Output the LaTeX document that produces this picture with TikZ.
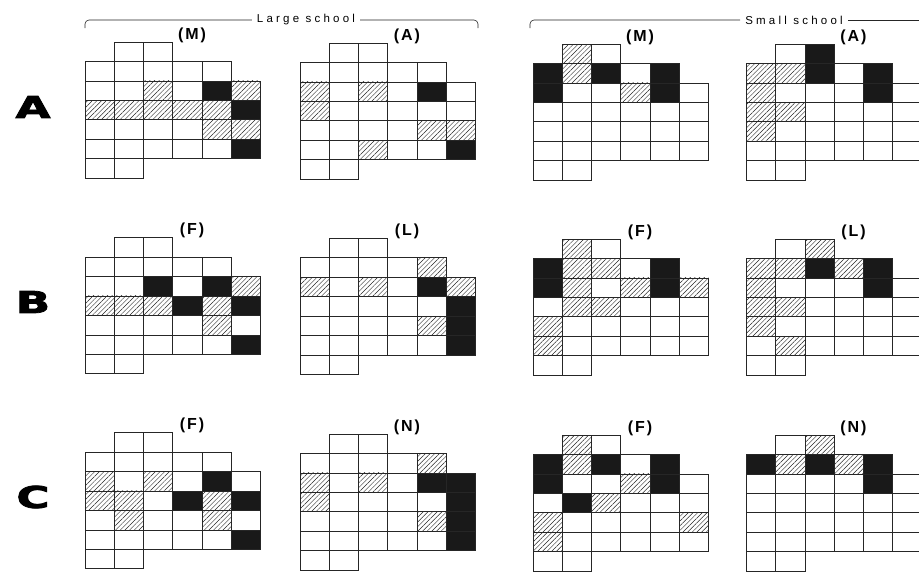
\documentclass[tikz,border=0pt]{standalone}
\usepackage{fontspec}
\setmainfont{Liberation Sans}
\newfontfamily\rowfont{DejaVu Sans}[BoldFeatures={FakeBold=2.5}]
\newfontfamily\hdrfont[LetterSpace=28]{Liberation Sans}
\newfontfamily\labfont[LetterSpace=12]{Liberation Sans}
\usetikzlibrary{patterns.meta}

\begin{document}
\begin{tikzpicture}[x=1pt, y=-1pt]

  % ---- sizing knobs ----
  \pgfmathsetmacro{\SGcellw}{29.25}  % cell width
  \pgfmathsetmacro{\SGcellh}{19.43}  % cell height
  \pgfmathsetmacro{\SGlabx}{107}     % label offset from left edge of grid

  \definecolor{SGLine}{gray}{0.15}

  \tikzset{
    gridcell/.style={draw=SGLine, line width=0.65pt},
    hatchcell/.style={pattern={Lines[angle=45, distance=3.3pt, line width=0.45pt]}, pattern color=SGLine},
    darkcell/.style={fill=black!90},
    gridlabel/.style={anchor=base, inner sep=0pt, font=\labfont\bfseries\fontsize{16}{18}\selectfont},
    rowlabel/.style={xscale=1.5, font=\rowfont\bfseries\fontsize{30}{30}\selectfont},
    hdrlabel/.style={inner xsep=5pt, font=\hdrfont\fontsize{11.5}{13}\selectfont},
    hdrline/.style={draw=SGLine, line width=0.6pt, rounded corners=4pt}
  }

  \useasboundingbox (0,0) rectangle (919,571);

  % ---- one grid: x, y, name, label, hatched cells, black cells ----
  \newcommand{\SGgrid}[6]{%
    \begin{scope}[shift={(#1,#2)}]
      \foreach \cx/\ry in {#5}
        \fill[hatchcell] ({\cx*\SGcellw},{\ry*\SGcellh}) rectangle ++(\SGcellw,\SGcellh);
      \foreach \cx/\ry in {#6}
        \fill[darkcell] ({\cx*\SGcellw},{\ry*\SGcellh}) rectangle ++(\SGcellw,\SGcellh);
      \foreach \cx/\ry in {1/0,2/0,0/1,1/1,2/1,3/1,4/1,0/6,1/6}
        \draw[gridcell] ({\cx*\SGcellw},{\ry*\SGcellh}) rectangle ++(\SGcellw,\SGcellh);
      \foreach \ry in {2,...,5}
        \foreach \cx in {0,...,5}
          \draw[gridcell] ({\cx*\SGcellw},{\ry*\SGcellh}) rectangle ++(\SGcellw,\SGcellh);
      \node[gridlabel] (#3) at (\SGlabx,-3) {#4};
    \end{scope}}

  % ---- headers ----
  \node[hdrlabel] (lgHdr) at (306,20) {Large school};
  \coordinate (lgL) at (85,28);
  \coordinate (lgR) at (478,28);
  \draw[hdrline] (lgL) |- (lgHdr.west);
  \draw[hdrline] (lgHdr.east) -| (lgR);

  \node[hdrlabel] (smHdr) at (794,20) {Small school};
  \coordinate (smL) at (530,28);
  \coordinate (smR) at (925,20);
  \draw[hdrline] (smL) |- (smHdr.west);
  \draw[hdrline] (smHdr.east) -- (smR);

  % ---- row labels ----
  \node[rowlabel] (rowA) at (33,107) {A};
  \node[rowlabel] (rowB) at (33,302) {B};
  \node[rowlabel] (rowC) at (33,497) {C};

  % ROW A
  \SGgrid{85}{42}{lgAM}{(M)}{2/2,5/2,0/3,1/3,2/3,3/3,4/3,4/4,5/4}{4/2,5/3,5/5}
  \SGgrid{300}{43}{lgAA}{(A)}{0/2,2/2,0/3,4/4,5/4,2/5}{4/2,5/5}
  \SGgrid{533}{44}{smAM}{(M)}{1/0,1/1,3/2}{0/1,2/1,4/1,0/2,4/2}
  \SGgrid{746.5}{44}{smAA}{(A)}{0/1,1/1,0/2,0/3,1/3,0/4}{2/0,2/1,4/1,4/2}

  % ROW B
  \SGgrid{85}{237.7}{lgBF}{(F)}{5/2,0/3,1/3,2/3,4/3,4/4}{2/2,4/2,3/3,5/3,5/5}
  \SGgrid{300}{238.3}{lgBL}{(L)}{4/1,0/2,2/2,5/2,4/4}{4/2,5/3,5/4,5/5}
  \SGgrid{533}{239}{smBF}{(F)}{1/0,1/1,2/1,1/2,3/2,5/2,1/3,2/3,0/4,0/5}{0/1,4/1,0/2,4/2}
  \SGgrid{746.5}{239}{smBL}{(L)}{2/0,0/1,1/1,3/1,0/2,0/3,1/3,0/4,1/5}{2/1,4/1,4/2}

  % ROW C
  \SGgrid{85}{432.7}{lgCF}{(F)}{0/2,2/2,0/3,1/3,4/3,1/4,4/4}{4/2,3/3,5/3,5/5}
  \SGgrid{300}{434}{lgCN}{(N)}{4/1,0/2,2/2,0/3,4/4}{4/2,5/2,5/3,5/4,5/5}
  \SGgrid{533}{435}{smCF}{(F)}{1/0,1/1,3/2,2/3,0/4,5/4,0/5}{0/1,2/1,4/1,0/2,4/2,1/3}
  \SGgrid{746.5}{435}{smCN}{(N)}{2/0,1/1,3/1}{0/1,2/1,4/1,4/2}

\end{tikzpicture}
\end{document}
